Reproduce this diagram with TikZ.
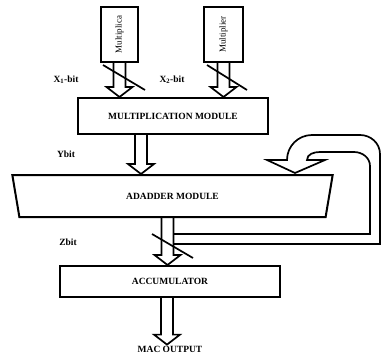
\documentclass[tikz,border=0pt]{standalone}
\usepackage{fontspec}
\setmainfont{Liberation Serif}
\usetikzlibrary{calc,shapes.geometric}

\tikzset{
  block/.style={draw, line width=2pt, inner sep=0pt, font=\bfseries\fontsize{9.5}{11}\selectfont},
  inbox/.style={draw, line width=2pt, inner sep=0pt, minimum height=55pt, font=\fontsize{9}{10}\selectfont},
  lbl/.style={inner sep=1pt, font=\bfseries\fontsize{9.5}{11}\selectfont},
  blockline/.style={line width=1.7pt, line join=miter},
  slashline/.style={line width=1.7pt}
}
% hollow block arrow from #1 down to the tip #2
\newcommand\hollowarrow[2]{%
  \draw[blockline] let \p1=(#1), \p2=(#2) in
    (\x2-6pt,\y1) -- (\x2-6pt,\y2+10pt) -- (\x2-13pt,\y2+10pt) -- (\x2,\y2)
    -- (\x2+13pt,\y2+10pt) -- (\x2+6pt,\y2+10pt) -- (\x2+6pt,\y1);}

\begin{document}
\begin{tikzpicture}[x=1pt,y=-1pt]
  \useasboundingbox (0,0) rectangle (381,356);

  \node[inbox, minimum width=37pt] (mcand) at (119.5,34.5) {\rotatebox{90}{Multiplica}};
  \node[inbox, minimum width=39pt] (mplier) at (223.5,34.5) {\rotatebox{90}{Multiplier}};
  \node[block, minimum width=190pt, minimum height=36pt] (mult) at (173,116) {MULTIPLICATION MODULE};
  \node[block, trapezium, shape border rotate=180, trapezium stretches=true,
        trapezium angle=71.5, minimum width=321pt, minimum height=42pt] (adder) at (172.5,196) {ADADDER MODULE};
  \node[block, minimum width=220pt, minimum height=31pt] (acc) at (170,281.5) {ACCUMULATOR};
  \node[lbl] (macout) at (170,349) {MAC OUTPUT};

  \node[lbl] (xone) at (66,80) {X\textsubscript{1}-bit};
  \node[lbl] (xtwo) at (172,80) {X\textsubscript{2}-bit};
  \node[lbl] (ybit) at (66,154) {Ybit};
  \node[lbl] (zbit) at (68,242) {Zbit};

  \coordinate (yx) at ($(mult.south)+(-32,0)$);
  \coordinate (zx) at ($(adder.south)+(-5,0)$);
  \coordinate (ox) at ($(acc.south)+(-3,0)$);

  \hollowarrow{mcand.south}{mcand.south |- mult.north}
  \hollowarrow{mplier.south}{mplier.south |- mult.north}
  \hollowarrow{yx}{yx |- adder.north}
  \hollowarrow{zx}{zx |- acc.north}
  \hollowarrow{ox}{ox |- macout.north}

  % feedback to the adder
  \draw[blockline] (173,234) -- (370,234) -- (370,166) to[out=90,in=0] (354,152) -- (320,152)
    to[out=180,in=90] (307,160) -- (325,160) -- (295,173) -- (267,160) -- (287,160)
    to[out=90,in=180] (312,135) -- (360,135) to[out=0,in=90] (380,154) -- (380,244) -- (173,244);

  \draw[slashline] (103,65) -- (145,90);
  \draw[slashline] (207,65) -- (247,90);
  \draw[slashline] (152,234) -- (193,258);
\end{tikzpicture}
\end{document}
